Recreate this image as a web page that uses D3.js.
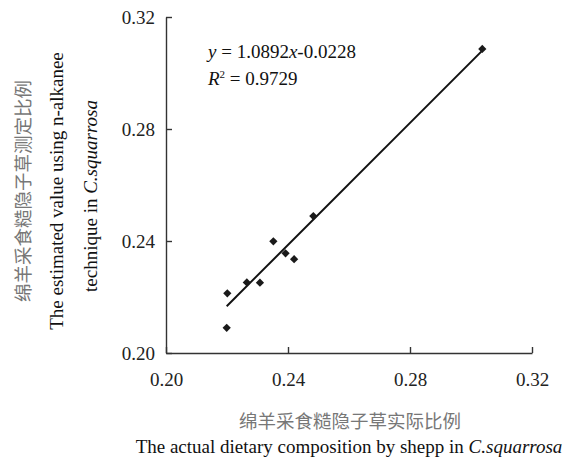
<!DOCTYPE html>
<html>
<head>
<meta charset="utf-8">
<script src="https://cdn.jsdelivr.net/npm/d3@7"></script>
<style>
  html, body { margin: 0; padding: 0; background: #fff; }
  svg { display: block; }
</style>
</head>
<body>
<svg id="chart" width="570" height="464"></svg>
<script>
// ---- data ----
const actualValues    = [0.2201, 0.2199, 0.2265, 0.2308, 0.2352, 0.2392, 0.2420, 0.2483, 0.3037];
const estimatedValues = [0.2213, 0.2090, 0.2252, 0.2251, 0.2399, 0.2356, 0.2335, 0.2489, 0.3086];
const xTicks = [0.20, 0.24, 0.28, 0.32];
const yTicks = [0.20, 0.24, 0.28, 0.32];
const trendSlope = 1.0892;
const trendIntercept = -0.0228;
const equationText = ["y", " = 1.0892", "x", "-0.0228"];
const r2Text = "0.9729";
const xTitleZh = "绵羊采食糙隐子草实际比例";
const xTitleEn = ["The actual dietary composition by shepp in ", "C.squarrosa"];
const yTitleZh = "绵羊采食糙隐子草测定比例";
const yTitleEn1 = "The estimated value using n-alkanee";
const yTitleEn2 = ["technique in ", "C.squarrosa"];

// ---- layout ----
const serif = "'Liberation Serif', 'Times New Roman', Times, serif";
const cjk = "'Noto Sans CJK SC', 'Noto Sans CJK JP', sans-serif";
const fs = "19px";
const svg = d3.select("#chart");
const x = d3.scaleLinear().domain([0.20, 0.32]).range([166, 532]);
const y = d3.scaleLinear().domain([0.20, 0.32]).range([353, 17]);
const fmt = d3.format(".2f");

const xAxis = svg.append("g").attr("transform", "translate(0,353)")
  .call(d3.axisBottom(x).tickValues(xTicks).tickFormat(fmt).tickSizeInner(-6).tickSizeOuter(0).tickPadding(20));
const yAxis = svg.append("g").attr("transform", "translate(166,0)")
  .call(d3.axisLeft(y).tickValues(yTicks).tickFormat(fmt).tickSizeInner(-6).tickSizeOuter(0).tickPadding(11));

[xAxis, yAxis].forEach(g => {
  g.select(".domain").attr("stroke", "#333").attr("stroke-width", 1.4);
  g.selectAll(".tick line").attr("stroke", "#333").attr("stroke-width", 1.4);
  g.selectAll(".tick text").attr("fill", "#222").style("font-family", serif).style("font-size", fs);
});

// ---- trend line ----
const xMin = d3.min(actualValues), xMax = d3.max(actualValues);
svg.append("line")
  .attr("x1", x(xMin)).attr("y1", y(trendSlope * xMin + trendIntercept))
  .attr("x2", x(xMax)).attr("y2", y(trendSlope * xMax + trendIntercept))
  .attr("stroke", "#111").attr("stroke-width", 2);

// ---- points ----
const pts = actualValues.map((v, i) => [v, estimatedValues[i]]);
svg.append("g").selectAll("path").data(pts).join("path")
  .attr("d", d3.symbol(d3.symbolSquare, 34))
  .attr("transform", d => `translate(${x(d[0])},${y(d[1])}) rotate(45)`)
  .attr("fill", "#1a1a1a");

// ---- equation ----
const eq = svg.append("text").attr("x", 208).attr("y", 58)
  .style("font-family", serif).style("font-size", fs).attr("fill", "#111");
equationText.forEach((t, i) => eq.append("tspan").text(t).style("font-style", (i === 0 || i === 2) ? "italic" : "normal"));
const r2 = svg.append("text").attr("x", 208).attr("y", 85)
  .style("font-family", serif).style("font-size", fs).attr("fill", "#111");
r2.append("tspan").text("R").style("font-style", "italic");
r2.append("tspan").text("2").style("font-size", "11px").attr("dy", -7);
r2.append("tspan").text(" = " + r2Text).attr("dy", 7);

// ---- x titles ----
svg.append("text").attr("x", 350).attr("y", 428).attr("text-anchor", "middle")
  .style("font-family", cjk).style("font-size", "18.5px").attr("fill", "#777").text(xTitleZh);
const xe = svg.append("text").attr("x", 349).attr("y", 453).attr("text-anchor", "middle")
  .style("font-family", serif).style("font-size", fs).attr("fill", "#111");
xe.append("tspan").text(xTitleEn[0]);
xe.append("tspan").text(xTitleEn[1]).style("font-style", "italic");

// ---- y titles ----
svg.append("text").attr("transform", "translate(30,191) rotate(-90)").attr("text-anchor", "middle")
  .style("font-family", cjk).style("font-size", "18.5px").attr("fill", "#777").text(yTitleZh);
svg.append("text").attr("transform", "translate(63,191) rotate(-90)").attr("text-anchor", "middle")
  .style("font-family", serif).style("font-size", fs).attr("fill", "#111").text(yTitleEn1);
const ye = svg.append("text").attr("transform", "translate(97,196) rotate(-90)").attr("text-anchor", "middle")
  .style("font-family", serif).style("font-size", fs).attr("fill", "#111");
ye.append("tspan").text(yTitleEn2[0]);
ye.append("tspan").text(yTitleEn2[1]).style("font-style", "italic");
</script>
</body>
</html>
